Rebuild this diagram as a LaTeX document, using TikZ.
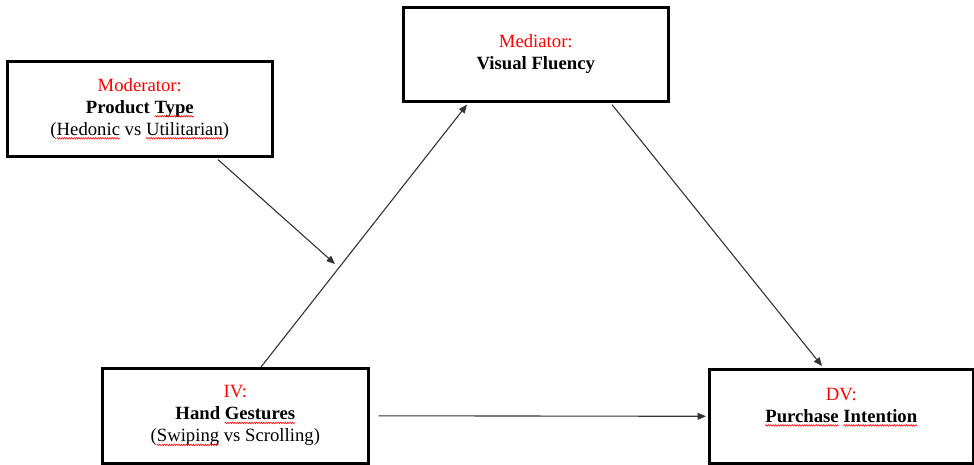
\documentclass[tikz,border=0pt]{standalone}
\usepackage{fontspec}
\setmainfont{Liberation Serif}
\usetikzlibrary{arrows.meta,calc,decorations.pathmorphing}
\newcommand{\sq}[1]{\setbox0=\hbox{#1}\leavevmode\rlap{\copy0}%
  \tikz[baseline=0pt,x=1pt,y=1pt]{\useasboundingbox (0,0) rectangle (\the\wd0,0);
    \draw[overlay, draw=red, line width=0.55pt, line cap=round, decorate,
      decoration={zigzag, amplitude=0.8pt, segment length=2.4pt}] (0,-3pt) -- (\the\wd0,-3pt);}}
\begin{document}
\begin{tikzpicture}[x=1pt,y=-1pt,
  box/.style={draw=black, line width=2.6pt, fill=white, inner sep=0pt, anchor=north west,
    align=center, font=\fontsize{18.7}{22}\selectfont},
  conn/.style={draw=black!80, line width=1.1pt, -{Triangle[length=8.5pt,width=7pt]}}
]
\path[use as bounding box, fill=white] (0,0) rectangle (974,465);

\node[box, minimum width=265pt, minimum height=95pt] (mod) at (6,60)
  {\textcolor{red}{Moderator:}\\\textbf{Product \sq{Type}}\\(\sq{Hedonic} vs \sq{Utilitarian})};
\node[box, minimum width=265pt, minimum height=94pt] (med) at (402,6)
  {\textcolor{red}{Mediator:}\\\textbf{Visual Fluency}};
\node[box, minimum width=266pt, minimum height=95pt] (iv) at (101,367)
  {\textcolor{red}{IV:}\\\textbf{Hand \sq{Gestures}}\\(\sq{Swiping} vs Scrolling)};
\node[box, minimum width=264pt, minimum height=94pt] (dv) at (708,368)
  {\textcolor{red}{DV:}\\\textbf{\sq{Purchase} \sq{Intention}}\\\mbox{}};

\coordinate (ivtop) at ([xshift=160pt]iv.north west);
\coordinate (medin) at ([xshift=65pt,yshift=-2pt]med.south west);
\coordinate (medout) at ([xshift=210pt,yshift=-2pt]med.south west);
\coordinate (dvin) at ([xshift=114pt,yshift=2pt]dv.north west);
\coordinate (ivright) at ([xshift=9pt]iv.east);
\coordinate (dvleft) at ([xshift=-2pt]dv.west);
\coordinate (modout) at ([xshift=212pt,yshift=-2pt]mod.south west);
\coordinate (modtip) at (335,264);

\draw[conn] (ivtop) -- (medin);
\draw[conn] (medout) -- (dvin);
\draw[conn] (ivright) -- (dvleft);
\draw[conn] (modout) -- (modtip);
\end{tikzpicture}
\end{document}
